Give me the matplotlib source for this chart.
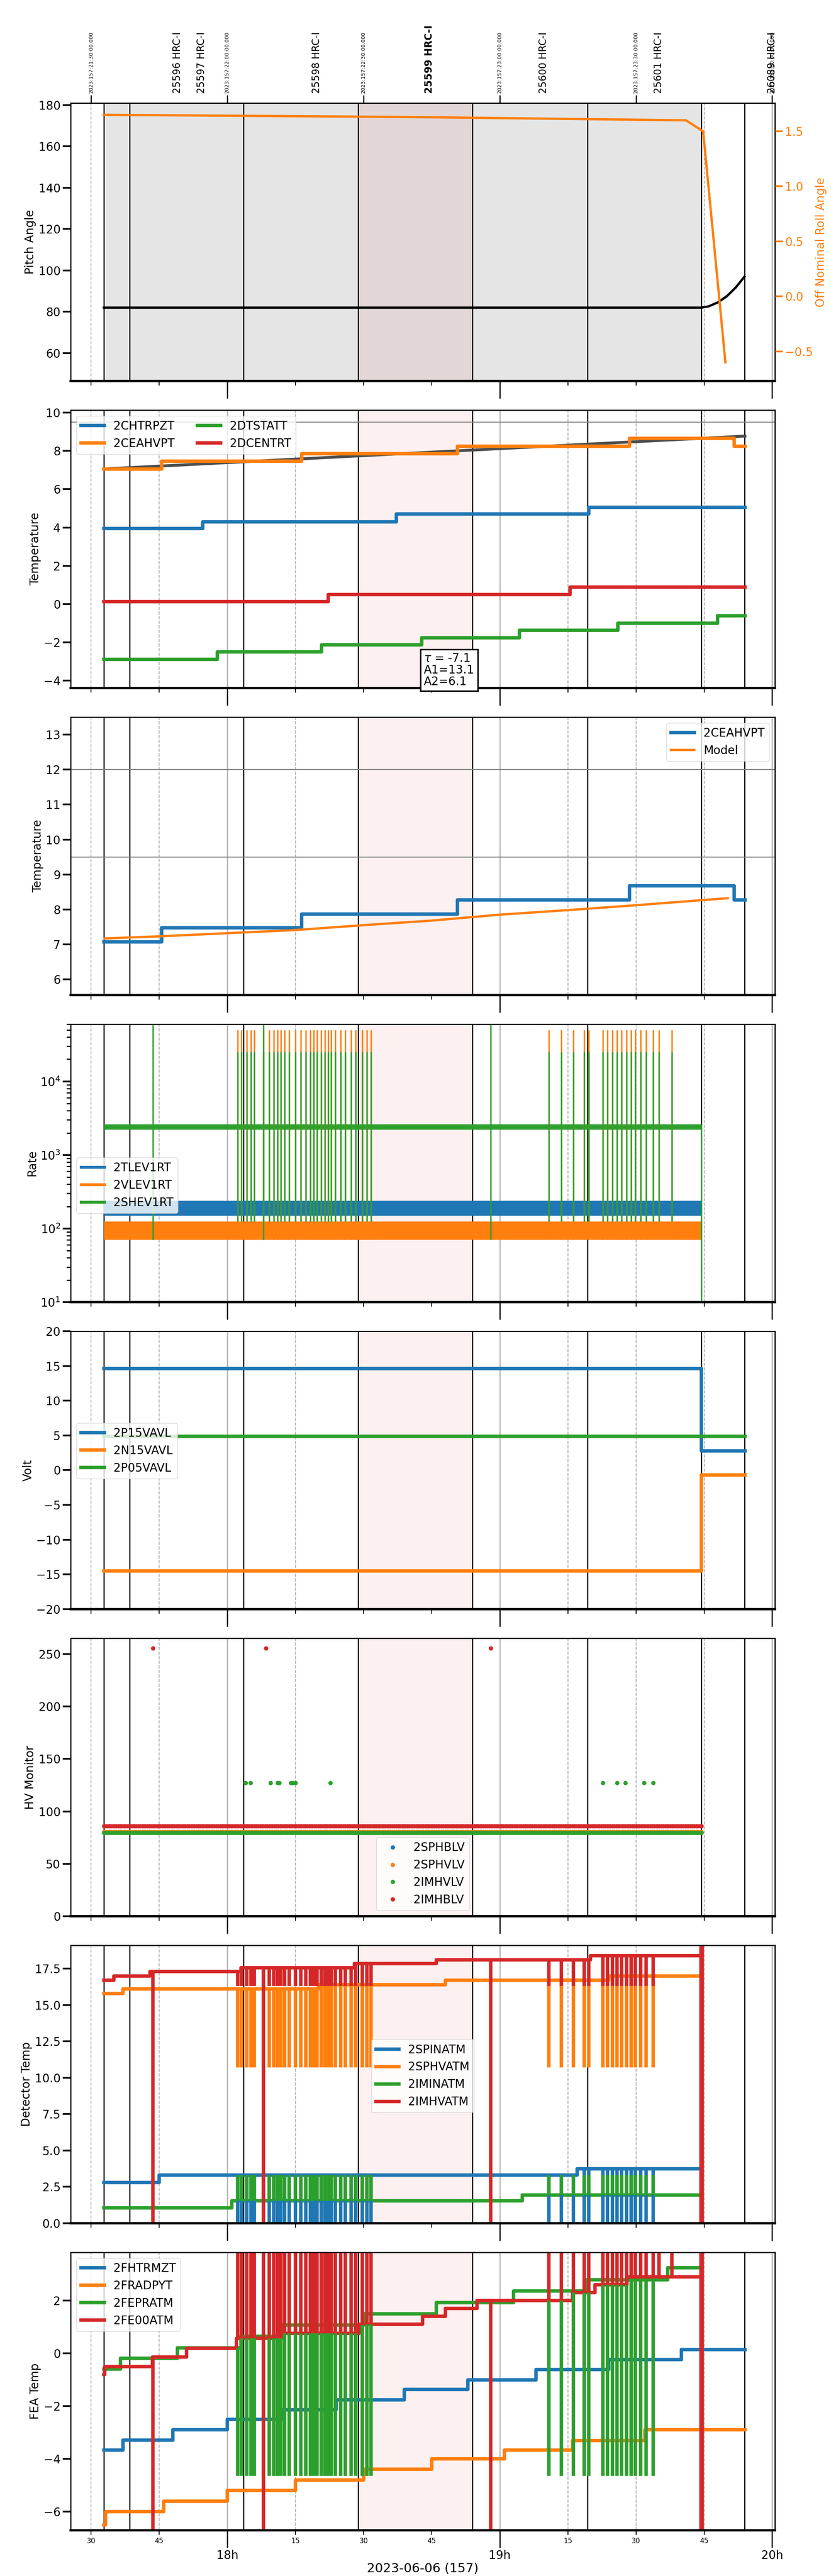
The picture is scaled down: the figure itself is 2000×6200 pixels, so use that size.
import numpy as np
import matplotlib
matplotlib.use("Agg")
import matplotlib.pyplot as plt
from matplotlib.transforms import blended_transform_factory

# time in minutes after 17:00 local
t_start, t_end = 25.5, 180.6
obs_lines = [32.8, 38.5, 63.6, 88.8, 114.0, 139.3, 164.4, 173.9]
hl_span = (88.8, 114.0)
obsid_labels = ["25596 HRC-I", "25597 HRC-I", "25598 HRC-I", "25599 HRC-I", "25600 HRC-I", "25601 HRC-I", "26089 HRC-I"]
obsid_pos = [49.0, 54.3, 79.7, 104.5, 129.6, 155.0, 180.0]
utc_pos = [30, 60, 90, 120, 150, 180]
utc_labels = ["2023:157:21:30:00.000", "2023:157:22:00:00.000", "2023:157:22:30:00.000",
              "2023:157:23:00:00.000", "2023:157:23:30:00.000", "2023:158:00:00:00.000"]

# panel 1
pitch_t = [32.8, 164.4, 166, 168, 170, 172, 173.9]
pitch_v = [82.0, 82.0, 82.6, 84.5, 87.5, 91.8, 97.0]
roll_t = [32.8, 100.0, 161.0, 164.8, 169.7]
roll_v = [1.65, 1.63, 1.60, 1.50, -0.60]

# panel 2 (step series: times, values)
chtrpzt_t = [32.8, 54.6, 97.2, 139.6, 174.0]
chtrpzt_v = [3.94, 4.30, 4.70, 5.06, 5.06]
ceahvpt_t = [32.8, 45.5, 76.4, 110.7, 148.6, 171.6, 174.0]
ceahvpt_v = [7.06, 7.46, 7.86, 8.26, 8.66, 8.26, 8.26]
dtstatt_t = [32.8, 57.8, 80.8, 102.8, 124.3, 146.0, 168.0, 174.0]
dtstatt_v = [-2.90, -2.52, -2.14, -1.76, -1.38, -1.00, -0.62, -0.62]
dcentrt_t = [32.8, 82.2, 135.5, 174.0]
dcentrt_v = [0.12, 0.50, 0.88, 0.88]
model2_t = [32.8, 174.0]
model2_v = [7.06, 8.78]

# panel 3
model3_t = [33, 45, 60, 75, 90, 105, 120, 135, 150, 165, 170.2]
model3_v = [7.17, 7.23, 7.32, 7.41, 7.55, 7.68, 7.85, 7.98, 8.12, 8.27, 8.32]

# panel 4 rates: noise band limits and spikes
rate_t = [32.8, 164.4]
tlev1_lo, tlev1_hi = [150, 150], [240, 240]
vlev1_lo, vlev1_hi = [70, 70], [125, 125]
shev1_lo, shev1_hi = [2200, 2200], [2600, 2600]
burst_times = [62.3, 63.1, 64.3, 65.2, 65.9, 68.0, 69.2, 70.2, 71.1, 71.8, 72.6, 73.6, 75.0,
               76.2, 77.3, 78.3, 79.0, 79.8, 80.7, 81.5, 82.2, 82.9, 83.8, 85.0, 86.0, 87.3,
               88.3, 89.7, 90.7, 91.7, 130.8, 133.6, 136.2, 138.6, 139.6, 142.7, 143.7, 144.8,
               145.8, 146.8, 147.9, 148.9, 149.9, 151.0, 152.2, 153.8, 155.1, 157.9]
vlev1_spike = 50000
shev1_spike = 25000
shev1_big_t = [43.6, 68.0, 118.0]
shev1_big_v = 60000

# panel 5 volts
volt_t = [32.8, 164.4, 174.0]
p15_v = [14.6, 2.8, 2.8]
n15_v = [-14.5, -0.66, -0.66]
p05_v = [4.9, 4.9, 4.9]

# panel 6 HV monitor
hv_t = np.arange(32.8, 164.4, 0.4)
sphblv_v = 80.0
sphvlv_v = 80.5
imhvlv_v = 79.5
imhblv_v = 86.0
imhblv_out_t = [43.6, 68.5, 118.0]
imhblv_out_v = 255.5
imhvlv_out_t = [64.0, 65.1, 69.5, 71.1, 71.4, 74.0, 74.4, 75.0, 82.7,
                142.7, 145.8, 147.7, 151.8, 153.8]
imhvlv_out_v = 127.0

# panel 7 detector temps
spinatm_t = [32.8, 45.0, 137.0, 164.4]
spinatm_v = [2.8, 3.3, 3.75, 3.75]
sphvatm_t = [32.8, 37.0, 80.0, 108.0, 144.0, 164.4]
sphvatm_v = [15.8, 16.1, 16.4, 16.7, 17.0, 17.0]
iminatm_t = [32.8, 61.0, 125.0, 164.4]
iminatm_v = [1.06, 1.55, 1.95, 1.95]
imhvatm_t = [32.8, 35.0, 43.0, 63.0, 88.0, 106.0, 140.0, 164.4]
imhvatm_v = [16.7, 17.0, 17.3, 17.55, 17.85, 18.1, 18.4, 18.4]
spinatm_drop, sphvatm_drop, iminatm_spike, imhvatm_drop = 0.0, 10.7, 3.3, 16.3
imhvatm_big_t = [43.6, 68.0, 118.0, 164.4]

# panel 8 FEA temps
fhtrmzt_t = [32.8, 37.0, 48.0, 60.0, 72.0, 84.0, 99.0, 113.0, 128.0, 144.0, 160.0, 174.0]
fhtrmzt_v = [-3.67, -3.29, -2.90, -2.50, -2.14, -1.76, -1.37, -1.01, -0.61, -0.24, 0.14, 0.14]
fradpyt_t = [32.8, 33.2, 46.0, 60.0, 75.0, 90.0, 105.0, 121.0, 136.0, 152.0, 174.0]
fradpyt_v = [-6.5, -6.0, -5.6, -5.2, -4.8, -4.4, -4.0, -3.67, -3.3, -2.9, -2.9]
fepratm_t = [32.8, 36.5, 49.0, 63.0, 72.0, 90.0, 106.0, 123.0, 139.0, 157.0, 164.4]
fepratm_v = [-0.6, -0.19, 0.21, 0.64, 1.07, 1.5, 1.93, 2.36, 2.79, 3.24, 3.24]
fe00atm_t = [32.8, 33.0, 43.5, 51.0, 62.0, 72.0, 89.0, 103.0, 108.0, 115.0, 136.0, 141.0, 148.0, 164.4]
fe00atm_v = [-0.8, -0.5, -0.14, 0.19, 0.57, 0.76, 1.1, 1.4, 1.7, 2.0, 2.3, 2.6, 2.9, 2.9]
fepratm_drop, fe00atm_spike = -4.64, 4.0

C = plt.rcParams['axes.prop_cycle'].by_key()['color']
FS = 20
LW = 6
plt.rcParams['font.size'] = FS

fig = plt.figure(figsize=(20, 62), dpi=100)
axes = []
for i in range(8):
    top = 248 + 739 * i
    ax = fig.add_axes([0.085, 1 - (top + 669) / 6200, 0.8475, 669 / 6200])
    axes.append(ax)


def decorate(ax, shade=True):
    ax.set_xlim(t_start, t_end)
    for m in [30, 45, 75, 90, 105, 135, 150, 165]:
        ax.axvline(m, color='0.7', ls='--', lw=1.5, zorder=0)
    for m in [60, 120, 180]:
        ax.axvline(m, color='0.7', lw=2, zorder=0)
    for m in obs_lines:
        ax.axvline(m, color='k', lw=2, zorder=1)
    if shade:
        ax.axvspan(*hl_span, color='#fdf0f0', zorder=0)
    ax.set_xticks([60, 120, 180])
    ax.set_xticks([30, 45, 75, 90, 105, 135, 150, 165], minor=True)
    ax.tick_params(axis='x', which='major', length=30, width=2, labelbottom=False)
    ax.tick_params(axis='x', which='minor', length=8, width=1.5, labelbottom=False)
    ax.tick_params(axis='y', which='major', length=14, width=3, labelsize=FS)
    for s in ax.spines.values():
        s.set_linewidth(2)
    ax.spines['bottom'].set_linewidth(4)


def steps(ax, t, v, **kw):
    return ax.plot(t, v, drawstyle='steps-post', **kw)[0]


def level_at(t, v, x):
    idx = np.searchsorted(t, x, side='right') - 1
    return v[max(idx, 0)]


# ---- panel 1
ax = axes[0]
decorate(ax, shade=False)
ax.axvspan(obs_lines[0], obs_lines[6], color='#e5e5e5', zorder=0)
ax.axvspan(*hl_span, color='#e3d6d6', zorder=0)
ax.plot(pitch_t, pitch_v, color='k', lw=4)
ax.set_ylim(46.5, 181)
ax.set_yticks([60, 80, 100, 120, 140, 160, 180])
ax.set_ylabel('Pitch Angle', fontsize=FS)
ax2 = ax.twinx()
ax2.plot(roll_t, roll_v, color=C[1], lw=4)
ax2.set_ylim(-0.77, 1.757)
ax2.set_ylabel('Off Nominal Roll Angle', color=C[1], fontsize=FS)
ax2.tick_params(axis='y', colors=C[1], length=14, width=3, labelsize=FS)
ax2.set_xlim(t_start, t_end)
sec = ax.secondary_xaxis('top')
sec.set_xticks(utc_pos)
sec.set_xticklabels([])
sec.tick_params(length=14, width=2)
tr = blended_transform_factory(ax.transData, ax.transAxes)
for p, s in zip(utc_pos, utc_labels):
    ax.text(p, 1.035, s, rotation=90, fontsize=9, ha='center', va='bottom', transform=tr)
for p, s in zip(obsid_pos, obsid_labels):
    ax.text(p, 1.035, s, rotation=90, fontsize=17, ha='center', va='bottom', transform=tr,
            fontweight='bold' if s.startswith('25599') else 'normal')

# ---- panel 2
ax = axes[1]
decorate(ax)
ax.axhline(9.5, color='0.5', lw=1.5)
ax.plot(model2_t, model2_v, color='0.3', lw=5)
steps(ax, chtrpzt_t, chtrpzt_v, color=C[0], lw=LW, label='2CHTRPZT')
steps(ax, ceahvpt_t, ceahvpt_v, color=C[1], lw=LW, label='2CEAHVPT')
steps(ax, dtstatt_t, dtstatt_v, color=C[2], lw=LW, label='2DTSTATT')
steps(ax, dcentrt_t, dcentrt_v, color=C[3], lw=LW, label='2DCENTRT')
ax.set_ylim(-4.4, 10.14)
ax.set_yticks([-4, -2, 0, 2, 4, 6, 8, 10])
ax.set_ylabel('Temperature', fontsize=FS)
ax.legend(loc='upper left', ncol=2, fontsize=FS)
ax.text(103.3, -2.55, r'$\tau$ = -7.1' + '\nA1=13.1\nA2=6.1', fontsize=FS, va='top',
        linespacing=1.0, bbox=dict(facecolor='white', edgecolor='k', lw=2.5, pad=6), zorder=10)

# ---- panel 3
ax = axes[2]
decorate(ax)
ax.axhline(12, color='0.5', lw=1.5)
ax.axhline(9.5, color='0.5', lw=1.5)
steps(ax, ceahvpt_t, [v + 0.01 for v in ceahvpt_v], color=C[0], lw=LW, label='2CEAHVPT')
ax.plot(model3_t, model3_v, color=C[1], lw=4, label='Model')
ax.set_ylim(5.55, 13.5)
ax.set_yticks([6, 7, 8, 9, 10, 11, 12, 13])
ax.set_ylabel('Temperature', fontsize=FS)
ax.legend(loc='upper right', fontsize=FS)

# ---- panel 4
ax = axes[3]
decorate(ax)
ax.set_yscale('log')
ax.fill_between(rate_t, tlev1_lo, tlev1_hi, color=C[0], lw=0)
ax.fill_between(rate_t, vlev1_lo, vlev1_hi, color=C[1], lw=0)
ax.fill_between(rate_t, shev1_lo, shev1_hi, color=C[2], lw=0, zorder=2)
ax.vlines(burst_times, vlev1_lo[0], vlev1_spike, color=C[1], lw=2.5)
ax.vlines(burst_times, vlev1_hi[0], shev1_spike, color=C[2], lw=2.5)
ax.vlines(shev1_big_t, vlev1_lo[0], shev1_big_v, color=C[2], lw=2.5)
ax.vlines([rate_t[1]], 10, shev1_hi[0], color=C[2], lw=2.5)
ax.plot([], [], color=C[0], lw=5, label='2TLEV1RT')
ax.plot([], [], color=C[1], lw=5, label='2VLEV1RT')
ax.plot([], [], color=C[2], lw=5, label='2SHEV1RT')
ax.set_ylim(10, 60000)
ax.set_ylabel('Rate', fontsize=FS)
ax.tick_params(axis='y', which='minor', length=7, width=2)
ax.legend(loc='center left', bbox_to_anchor=(0, 0.42), fontsize=FS)

# ---- panel 5
ax = axes[4]
decorate(ax)
steps(ax, volt_t, p15_v, color=C[0], lw=LW, label='2P15VAVL')
steps(ax, volt_t, n15_v, color=C[1], lw=LW, label='2N15VAVL')
steps(ax, volt_t, p05_v, color=C[2], lw=LW, label='2P05VAVL')
ax.set_ylim(-20, 20)
ax.set_yticks(range(-20, 21, 5))
ax.set_ylabel('Volt', fontsize=FS)
ax.legend(loc='center left', bbox_to_anchor=(0, 0.57), fontsize=FS)

# ---- panel 6
ax = axes[5]
decorate(ax)
ax.plot(hv_t, np.full(len(hv_t), sphblv_v), '.', color=C[0], ms=13, label='2SPHBLV')
ax.plot(hv_t, np.full(len(hv_t), sphvlv_v), '.', color=C[1], ms=13, label='2SPHVLV')
ax.plot(hv_t, np.full(len(hv_t), imhvlv_v), '.', color=C[2], ms=13, label='2IMHVLV')
ax.plot(hv_t, np.full(len(hv_t), imhblv_v), '.', color=C[3], ms=13, label='2IMHBLV')
ax.plot(imhvlv_out_t, [imhvlv_out_v] * len(imhvlv_out_t), '.', color=C[2], ms=13)
ax.plot(imhblv_out_t, [imhblv_out_v] * len(imhblv_out_t), '.', color=C[3], ms=13)
ax.set_ylim(0, 265)
ax.set_yticks([0, 50, 100, 150, 200, 250])
ax.set_ylabel('HV Monitor', fontsize=FS)
ax.legend(loc='lower center', fontsize=FS)

# ---- panel 7
ax = axes[6]
decorate(ax)
steps(ax, spinatm_t, spinatm_v, color=C[0], lw=LW, label='2SPINATM')
steps(ax, sphvatm_t, sphvatm_v, color=C[1], lw=LW, label='2SPHVATM')
steps(ax, iminatm_t, iminatm_v, color=C[2], lw=LW, label='2IMINATM')
steps(ax, imhvatm_t, imhvatm_v, color=C[3], lw=LW, label='2IMHVATM')
bt = [b for b in burst_times if b < 155]
ax.vlines(bt, spinatm_drop, [level_at(spinatm_t, spinatm_v, b) for b in bt], color=C[0], lw=LW)
ax.vlines(bt, sphvatm_drop, [level_at(sphvatm_t, sphvatm_v, b) for b in bt], color=C[1], lw=LW)
ax.vlines(bt, [level_at(iminatm_t, iminatm_v, b) for b in bt], iminatm_spike, color=C[2], lw=LW)
ax.vlines(bt, imhvatm_drop, [level_at(imhvatm_t, imhvatm_v, b) for b in bt], color=C[3], lw=LW)
ax.vlines(imhvatm_big_t, 0, [level_at(imhvatm_t, imhvatm_v, b) for b in imhvatm_big_t], color=C[3], lw=LW)
ax.vlines([164.4], 0, 19.5, color=C[3], lw=8)
ax.set_ylim(0, 19.1)
ax.set_yticks(np.arange(0, 17.6, 2.5))
ax.set_ylabel('Detector Temp', fontsize=FS)
ax.legend(loc='center', bbox_to_anchor=(0.5, 0.53), fontsize=FS)

# ---- panel 8
ax = axes[7]
decorate(ax)
steps(ax, fhtrmzt_t, fhtrmzt_v, color=C[0], lw=LW, label='2FHTRMZT')
steps(ax, fradpyt_t, fradpyt_v, color=C[1], lw=LW, label='2FRADPYT')
steps(ax, fepratm_t, fepratm_v, color=C[2], lw=LW, label='2FEPRATM')
steps(ax, fe00atm_t, fe00atm_v, color=C[3], lw=LW, label='2FE00ATM')
ax.vlines(bt, fepratm_drop, [level_at(fepratm_t, fepratm_v, b) for b in bt], color=C[2], lw=LW)
ax.vlines(burst_times, [level_at(fe00atm_t, fe00atm_v, b) for b in burst_times], fe00atm_spike, color=C[3], lw=LW)
ax.vlines(imhvatm_big_t, -7, [level_at(fe00atm_t, fe00atm_v, b) for b in imhvatm_big_t], color=C[3], lw=LW)
ax.vlines([164.4], -7, 4, color=C[3], lw=8)
ax.set_ylim(-6.71, 3.83)
ax.set_yticks([-6, -4, -2, 0, 2])
ax.set_ylabel('FEA Temp', fontsize=FS)
ax.legend(loc='upper left', fontsize=FS)
ax.set_xticklabels(['18h', '19h', '20h'])
ax.set_xticklabels(['30', '45', '15', '30', '45', '15', '30', '45'], minor=True)
ax.tick_params(axis='x', which='major', labelbottom=True, labelsize=FS, pad=4)
ax.tick_params(axis='x', which='minor', labelbottom=True, labelsize=12, pad=4)
ax.set_xlabel('2023-06-06 (157)', fontsize=FS + 2, labelpad=2)

fig.savefig('out.png', dpi=100)
